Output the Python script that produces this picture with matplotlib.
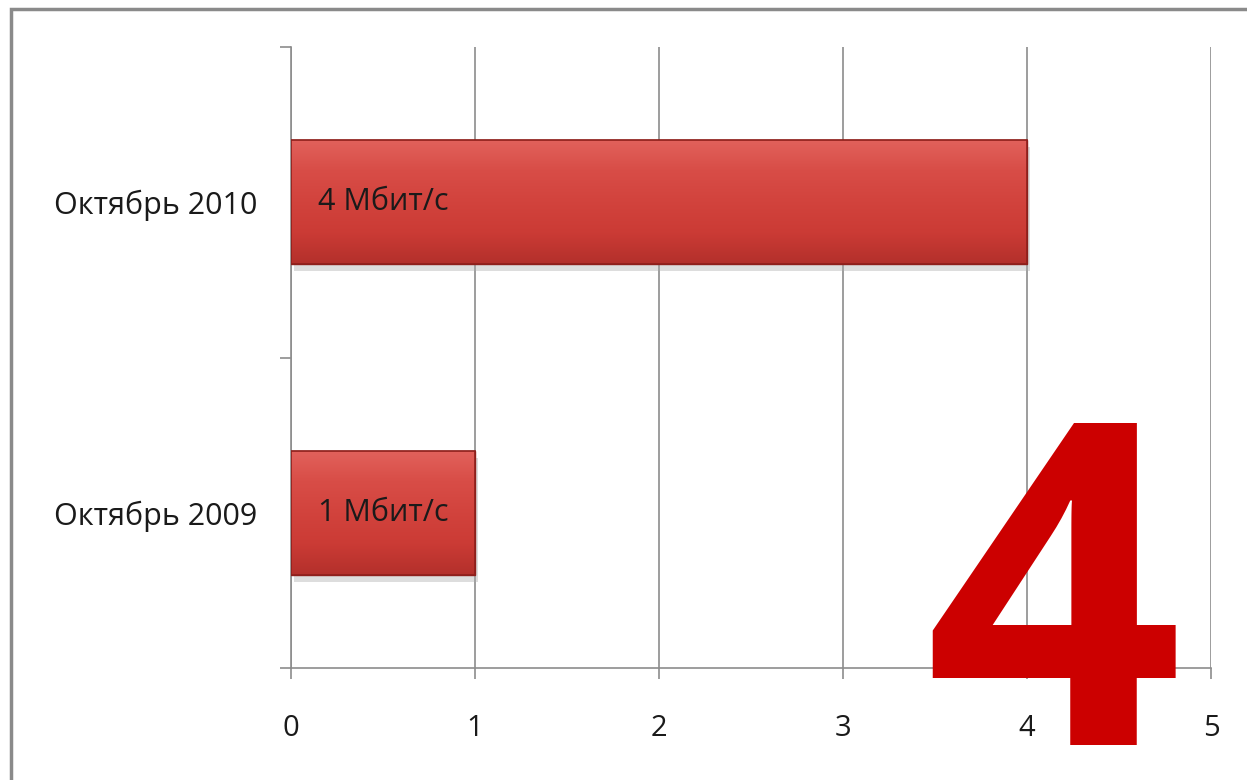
#!/usr/bin/env python3
import numpy as np
import matplotlib
matplotlib.use('Agg')
from matplotlib import pyplot as plt
from matplotlib import patheffects as pe
from matplotlib.colors import LinearSegmentedColormap
from matplotlib.patches import Rectangle

plt.rcParams['font.family'] = ['Open Sans', 'DejaVu Sans']

# data
categories = ['Октябрь 2009', 'Октябрь 2010']
speeds = [1, 4]
bar_labels = ['1 Мбит/с', '4 Мбит/с']
x_ticks = [0, 1, 2, 3, 4, 5]
big_number = '4'

fig = plt.figure(figsize=(12.47, 7.80), dpi=100)
ax = fig.add_axes([291/1247, 1 - 668/780, 920/1247, 621/780])

grey = '#8c8c8c'
ypos = np.arange(len(categories))
bars = ax.barh(ypos, speeds, height=0.4, color='#cf403a', edgecolor='#8e1f1b',
               linewidth=1.0, zorder=3)

# bevel-ish gradient inside each bar
cmap = LinearSegmentedColormap.from_list('bev', ['#b3302b', '#cb3b35', '#d2433d', '#d84d47', '#e2625c'])
grad = np.linspace(0, 1, 256).reshape(-1, 1)
for b in bars:
    b.set_path_effects([pe.SimplePatchShadow(offset=(2, -5), shadow_rgbFace='#aaaaaa', alpha=0.4),
                        pe.Normal()])
    x0, y0, w, h = b.get_x(), b.get_y(), b.get_width(), b.get_height()
    im = ax.imshow(grad, cmap=cmap, aspect='auto', origin='lower',
                   extent=(x0, x0 + w, y0, y0 + h), zorder=4)
    im.set_clip_path(b)
    edge = Rectangle((x0, y0), w, h, fill=False, edgecolor='#8e1f1b', lw=1.2, zorder=5)
    ax.add_patch(edge)

for y, lab in zip(ypos, bar_labels):
    ax.text(0.5, y, lab, ha='center', va='center', fontsize=22, color='#1a1a1a', zorder=6)

ax.set_xlim(0, 5)
ax.set_ylim(-0.5, len(categories) - 0.5)
ax.set_xticks(x_ticks)
ax.set_xticklabels([str(t) for t in x_ticks])
ax.grid(axis='x', color=grey, lw=1.2, zorder=0)
ax.set_axisbelow(True)

# category ticks at boundaries, labels in the middle
ax.set_yticks(np.arange(-0.5, len(categories), 1.0))
ax.set_yticklabels([])
ax.set_yticks(ypos, minor=True)
ax.set_yticklabels(categories, minor=True, fontsize=22, color='#1a1a1a')
ax.tick_params(axis='y', which='minor', length=0, pad=24)
ax.tick_params(axis='y', which='major', length=8, color=grey, width=1.2)
ax.tick_params(axis='x', length=8, color=grey, width=1.2, pad=25, labelsize=21, labelcolor='#1a1a1a')

for s in ['top', 'right']:
    ax.spines[s].set_visible(False)
for s in ['left', 'bottom']:
    ax.spines[s].set_color(grey)
    ax.spines[s].set_linewidth(1.2)

# outer frame
fig.patches.append(Rectangle((11/1247, -0.05), 1.1, 1.05 - 9/780, transform=fig.transFigure,
                             fill=False, edgecolor='#8a8a8a', lw=2.5))

# big red number
fig.text(1053/1247, 1 - 745/780, big_number, ha='center', va='baseline',
         fontsize=325, fontweight='bold', color='#cc0000')

fig.savefig('out.png', dpi=100)
